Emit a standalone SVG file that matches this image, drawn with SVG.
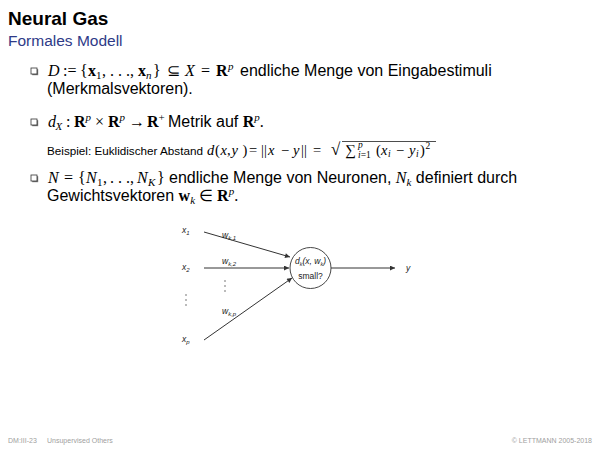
<svg xmlns="http://www.w3.org/2000/svg" width="600" height="450" viewBox="0 0 600 450">
<style>
.t{font-family:"Liberation Sans",Arial,sans-serif;fill:#000}
.m{font-family:"Liberation Serif","Times New Roman",serif;font-style:italic}
.r{font-family:"Liberation Serif","Times New Roman",serif;font-style:normal}
.b{font-family:"Liberation Serif","Times New Roman",serif;font-weight:bold;font-style:normal}
.lab{font-family:"Liberation Sans",Arial,sans-serif;font-style:italic;font-size:8.5px;fill:#222}
.up{font-family:"Liberation Sans",Arial,sans-serif;font-style:normal;font-size:8.5px;fill:#222}
.foot{font-family:"Liberation Sans",Arial,sans-serif;font-size:7px;fill:#a0a0a0}
.edge{stroke:#333;stroke-width:1;fill:none}
.dot{fill:#444}
</style>
<defs>
<marker id="ar" viewBox="0 0 10 10" refX="10" refY="5" markerWidth="6" markerHeight="5" orient="auto" markerUnits="userSpaceOnUse">
<path d="M0,0 L10,5 L0,10 z" fill="#333"/>
</marker>
<g id="bul">
<rect x="1.2" y="1.2" width="6" height="6" fill="#777"/>
<rect x="0" y="0" width="6" height="6" fill="#fff" stroke="#333" stroke-width="0.8"/>
</g>
</defs>
<rect width="600" height="450" fill="#fff"/>
<text class="t" x="8" y="25" font-size="19" font-weight="bold">Neural Gas</text>
<text class="t" x="8" y="46" font-size="15.5" style="fill:#2e3a87">Formales Modell</text>

<!-- bullet 1 -->
<use href="#bul" x="31" y="68"/>
<text class="t" y="76" font-size="16"><tspan class="m" x="48">D</tspan><tspan class="r" x="63">:=</tspan><tspan class="r" x="80">{</tspan><tspan class="b" x="88">x</tspan><tspan class="r" x="96" font-size="11" dy="3">1</tspan><tspan class="r" x="102" dy="-3">,</tspan><tspan class="r" x="110">. . .</tspan><tspan class="r" x="130">,</tspan><tspan class="b" x="138">x</tspan><tspan class="m" x="146" font-size="11" dy="3">n</tspan><tspan class="r" x="153" dy="-3">}</tspan><tspan class="r" x="167">⊆</tspan><tspan class="m" x="185">X</tspan><tspan class="r" x="201">=</tspan><tspan class="b" x="216">R</tspan><tspan class="m" x="228" font-size="11" dy="-6">p</tspan><tspan x="240" dy="6">endliche Menge von Eingabestimuli</tspan></text>
<text class="t" x="47" y="94" font-size="16">(Merkmalsvektoren).</text>

<!-- bullet 2 -->
<use href="#bul" x="31" y="119"/>
<text class="t" y="127" font-size="16"><tspan class="m" x="48">d</tspan><tspan class="m" x="55.5" font-size="11" dy="3">X</tspan><tspan class="r" x="66" dy="-3">:</tspan><tspan class="b" x="74">R</tspan><tspan class="m" x="85.5" font-size="11" dy="-6">p</tspan><tspan class="r" x="95" dy="6">×</tspan><tspan class="b" x="108">R</tspan><tspan class="m" x="119.5" font-size="11" dy="-6">p</tspan><tspan class="r" x="129" dy="6">→</tspan><tspan class="b" x="147">R</tspan><tspan class="r" x="158.5" font-size="11" dy="-6">+</tspan><tspan x="168" dy="6">Metrik auf </tspan><tspan class="b">R</tspan><tspan class="m" font-size="11" dy="-6">p</tspan><tspan class="r" dy="6">.</tspan></text>

<!-- Beispiel -->
<text class="t" y="155" font-size="11.7"><tspan x="47">Beispiel: Euklidischer Abstand</tspan><tspan class="m" x="207" font-size="14.5">d</tspan><tspan class="r" x="215" font-size="14.5">(</tspan><tspan class="m" x="220.5" font-size="14.5">x</tspan><tspan class="r" x="227" font-size="14.5">,</tspan><tspan class="m" x="231.5" font-size="14.5">y</tspan><tspan class="r" x="242.5" font-size="14.5">)</tspan><tspan class="r" x="249" font-size="14.5">=</tspan><tspan class="r" x="261" font-size="14.5">||</tspan><tspan class="m" x="268" font-size="14.5">x</tspan><tspan class="r" x="281" font-size="14.5">−</tspan><tspan class="m" x="293" font-size="14.5">y</tspan><tspan class="r" x="301" font-size="14.5">||</tspan><tspan class="r" x="313" font-size="14.5">=</tspan><tspan class="r" x="331" font-size="17">√</tspan><tspan class="r" x="345" font-size="15">∑</tspan><tspan class="m" x="358" font-size="9.5" dy="-7">p</tspan><tspan class="m" x="358" font-size="9.5" dy="10">i</tspan><tspan class="r" font-size="9.5">=1</tspan><tspan class="r" x="376" font-size="14.5" dy="-3">(</tspan><tspan class="m" x="381" font-size="14.5">x</tspan><tspan class="m" x="388" font-size="9.5" dy="2">i</tspan><tspan class="r" x="396" font-size="14.5" dy="-2">−</tspan><tspan class="m" x="409" font-size="14.5">y</tspan><tspan class="m" x="416" font-size="9.5" dy="2">i</tspan><tspan class="r" x="420" font-size="14.5" dy="-2">)</tspan><tspan class="r" x="425.5" font-size="9.5" dy="-6">2</tspan></text>
<line x1="342" y1="141.5" x2="436" y2="141.5" stroke="#000" stroke-width="0.7"/>

<!-- bullet 3 -->
<use href="#bul" x="31" y="175"/>
<text class="t" y="183" font-size="16"><tspan class="m" x="48">N</tspan><tspan class="r" x="64">=</tspan><tspan class="r" x="78">{</tspan><tspan class="m" x="86">N</tspan><tspan class="r" x="97" font-size="11" dy="3">1</tspan><tspan class="r" x="103" dy="-3">,</tspan><tspan class="r" x="110">. . .</tspan><tspan class="r" x="130">,</tspan><tspan class="m" x="137">N</tspan><tspan class="m" x="148" font-size="11" dy="3">K</tspan><tspan class="r" x="157" dy="-3">}</tspan><tspan x="169">endliche Menge von Neuronen, </tspan><tspan class="m">N</tspan><tspan class="m" font-size="11" dy="3">k</tspan><tspan dy="-3"> definiert durch</tspan></text>
<text class="t" y="201" font-size="16"><tspan x="47">Gewichtsvektoren </tspan><tspan class="b">w</tspan><tspan class="m" font-size="11" dy="3">k</tspan><tspan class="r" dy="-3"> ∈ </tspan><tspan class="b">R</tspan><tspan class="m" font-size="11" dy="-6">p</tspan><tspan class="r" dy="6">.</tspan></text>

<g id="connectors">
<line class="edge" x1="204" y1="232" x2="290" y2="257" marker-end="url(#ar)"/>
<line class="edge" x1="204" y1="268" x2="289" y2="268" marker-end="url(#ar)"/>
<line class="edge" x1="204" y1="340" x2="292" y2="278" marker-end="url(#ar)"/>
<line class="edge" x1="331" y1="268" x2="395" y2="268" marker-end="url(#ar)"/>
</g>

<g id="inputs">
<text class="lab" x="182" y="233">x<tspan font-size="6" dy="2">1</tspan></text>
<text class="lab" x="182" y="270">x<tspan font-size="6" dy="2">2</tspan></text>
<text class="lab" x="182" y="342">x<tspan font-size="6" dy="2">p</tspan></text>
<circle class="dot" cx="186" cy="295" r="0.7"/>
<circle class="dot" cx="186" cy="300" r="0.7"/>
<circle class="dot" cx="186" cy="305" r="0.7"/>
</g>

<g id="weights">
<text class="lab" x="222" y="238">w<tspan font-size="6" dy="2">k,1</tspan></text>
<text class="lab" x="222" y="264">w<tspan font-size="6" dy="2">k,2</tspan></text>
<text class="lab" x="222" y="314">w<tspan font-size="6" dy="2">k,p</tspan></text>
<circle class="dot" cx="225" cy="281" r="0.7"/>
<circle class="dot" cx="225" cy="286" r="0.7"/>
<circle class="dot" cx="225" cy="291" r="0.7"/>
</g>

<g id="neuron">
<circle cx="310.5" cy="268" r="20.5" fill="#fff" stroke="#333" stroke-width="0.9"/>
<text class="lab" x="310.5" y="264" text-anchor="middle">d<tspan font-size="5.5" dy="2">k</tspan><tspan dy="-2">(x, w</tspan><tspan font-size="5.5" dy="2">k</tspan><tspan dy="-2">)</tspan></text>
<text class="up" x="310.5" y="279" text-anchor="middle">small?</text>
</g>

<g id="output">
<text class="lab" x="406" y="271">y</text>
</g>

<text class="foot" x="8" y="443">DM:III-23</text>
<text class="foot" x="47" y="443">Unsupervised Others</text>
<text class="foot" x="592" y="443" text-anchor="end">© LETTMANN 2005-2018</text>
</svg>
